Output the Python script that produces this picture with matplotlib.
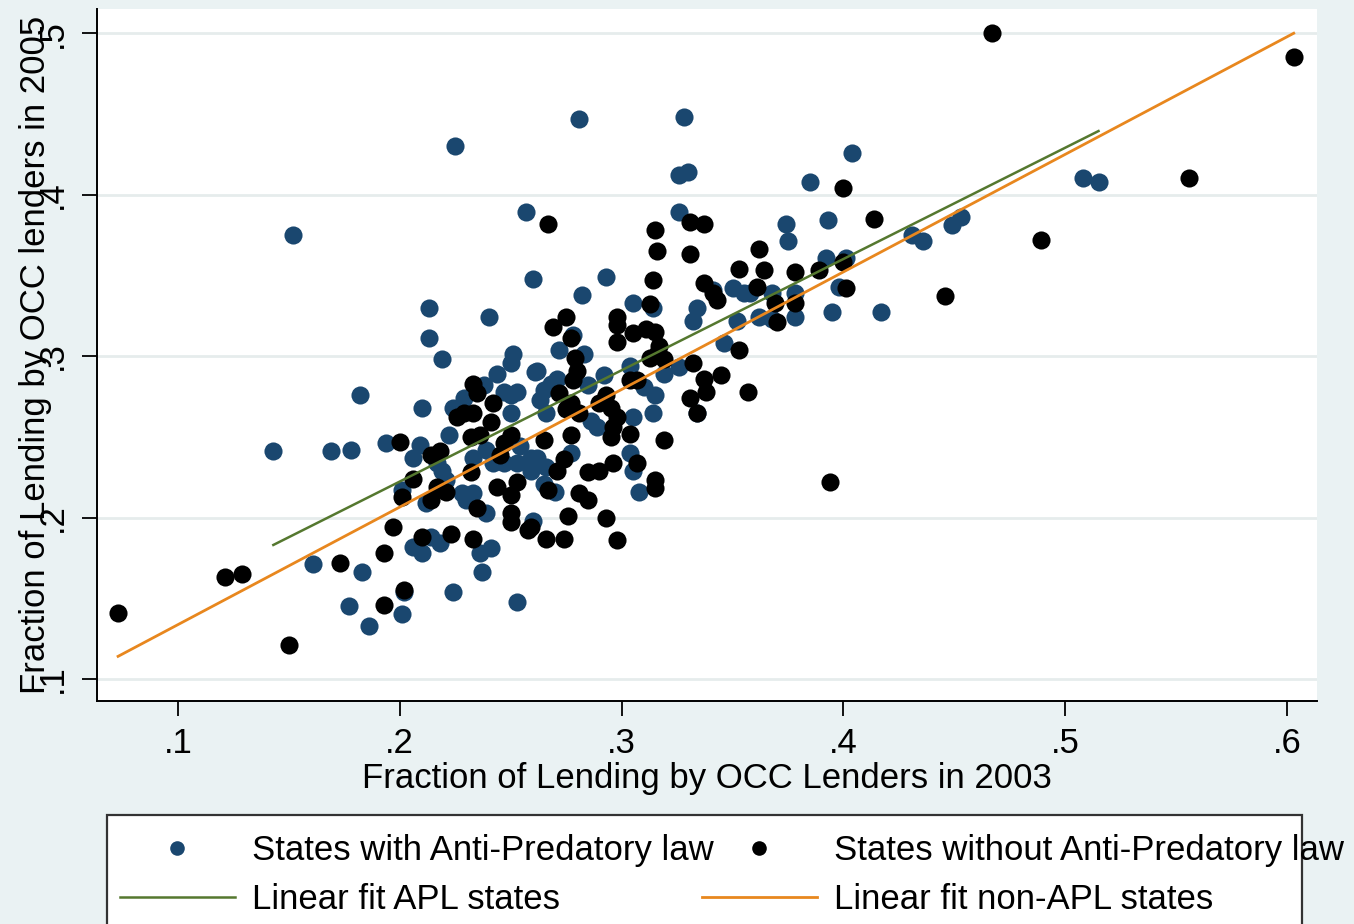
import matplotlib
matplotlib.use("Agg")
import matplotlib.pyplot as plt
from matplotlib.lines import Line2D
from matplotlib.patches import Rectangle
import numpy as np

# States with an anti-predatory lending law (APL)
apl_x = [0.152, 0.225, 0.281, 0.328, 0.326, 0.330, 0.404, 0.385, 0.508, 0.515,
         0.257, 0.326, 0.374, 0.393, 0.453, 0.449, 0.431, 0.436, 0.375, 0.260,
         0.293, 0.282, 0.305, 0.314, 0.392, 0.401, 0.417, 0.395, 0.378, 0.362,
         0.368, 0.352, 0.334, 0.332, 0.341, 0.350, 0.355, 0.358, 0.368, 0.378,
         0.398, 0.346, 0.213, 0.240, 0.213, 0.219, 0.251, 0.250, 0.244, 0.261,
         0.238, 0.247, 0.253, 0.265, 0.182, 0.210, 0.143, 0.169, 0.178, 0.194,
         0.206, 0.209, 0.222, 0.224, 0.250, 0.250, 0.263, 0.233, 0.219, 0.217,
         0.242, 0.247, 0.253, 0.259, 0.259, 0.228, 0.233, 0.230, 0.212, 0.201,
         0.265, 0.239, 0.260, 0.214, 0.206, 0.210, 0.218, 0.236, 0.241, 0.183,
         0.237, 0.161, 0.177, 0.186, 0.201, 0.202, 0.224, 0.253, 0.278, 0.272,
         0.283, 0.262, 0.271, 0.292, 0.285, 0.304, 0.310, 0.315, 0.314, 0.319,
         0.326, 0.305, 0.289, 0.286, 0.277, 0.262, 0.266, 0.304, 0.334, 0.270,
         0.305, 0.308, 0.229, 0.268, 0.266, 0.239, 0.254, 0.221]
apl_y = [0.375, 0.430, 0.447, 0.448, 0.412, 0.414, 0.426, 0.408, 0.410, 0.408,
         0.389, 0.389, 0.382, 0.384, 0.386, 0.381, 0.375, 0.371, 0.371, 0.348,
         0.349, 0.338, 0.333, 0.330, 0.361, 0.361, 0.327, 0.327, 0.324, 0.324,
         0.323, 0.322, 0.330, 0.322, 0.341, 0.342, 0.339, 0.339, 0.339, 0.339,
         0.343, 0.308, 0.330, 0.324, 0.311, 0.298, 0.301, 0.296, 0.289, 0.290,
         0.282, 0.278, 0.278, 0.279, 0.276, 0.268, 0.241, 0.241, 0.242, 0.246,
         0.237, 0.245, 0.251, 0.268, 0.276, 0.265, 0.273, 0.237, 0.229, 0.234,
         0.234, 0.234, 0.234, 0.237, 0.229, 0.215, 0.215, 0.211, 0.209, 0.217,
         0.221, 0.203, 0.198, 0.188, 0.182, 0.178, 0.184, 0.178, 0.181, 0.166,
         0.166, 0.171, 0.145, 0.133, 0.140, 0.154, 0.154, 0.148, 0.313, 0.304,
         0.301, 0.291, 0.286, 0.288, 0.282, 0.294, 0.281, 0.276, 0.265, 0.289,
         0.293, 0.262, 0.256, 0.260, 0.240, 0.237, 0.231, 0.240, 0.265, 0.216,
         0.229, 0.216, 0.274, 0.283, 0.265, 0.242, 0.244, 0.223]

# States without an anti-predatory lending law
non_x = [0.467, 0.603, 0.556, 0.400, 0.414, 0.267, 0.315, 0.331, 0.337, 0.316,
         0.331, 0.337, 0.362, 0.353, 0.364, 0.378, 0.389, 0.400, 0.361, 0.401,
         0.369, 0.378, 0.370, 0.353, 0.489, 0.446, 0.394, 0.315, 0.317, 0.319,
         0.332, 0.337, 0.338, 0.331, 0.345, 0.357, 0.334, 0.319, 0.315, 0.315,
         0.269, 0.275, 0.277, 0.298, 0.298, 0.298, 0.305, 0.311, 0.313, 0.314,
         0.341, 0.343, 0.279, 0.280, 0.278, 0.272, 0.277, 0.275, 0.281, 0.290,
         0.293, 0.295, 0.304, 0.307, 0.313, 0.316, 0.298, 0.296, 0.295, 0.304,
         0.277, 0.265, 0.274, 0.271, 0.296, 0.307, 0.285, 0.290, 0.267, 0.281,
         0.285, 0.276, 0.293, 0.259, 0.266, 0.274, 0.298, 0.233, 0.235, 0.242,
         0.229, 0.226, 0.233, 0.241, 0.232, 0.236, 0.200, 0.214, 0.218, 0.247,
         0.250, 0.245, 0.232, 0.206, 0.244, 0.253, 0.250, 0.217, 0.221, 0.214,
         0.201, 0.235, 0.250, 0.250, 0.258, 0.197, 0.210, 0.223, 0.233, 0.193,
         0.173, 0.073, 0.121, 0.129, 0.150, 0.193, 0.202]
non_y = [0.500, 0.485, 0.410, 0.404, 0.385, 0.382, 0.378, 0.383, 0.382, 0.365,
         0.363, 0.345, 0.366, 0.354, 0.353, 0.352, 0.353, 0.358, 0.343, 0.342,
         0.333, 0.333, 0.321, 0.304, 0.372, 0.337, 0.222, 0.315, 0.306, 0.298,
         0.296, 0.286, 0.278, 0.274, 0.288, 0.278, 0.265, 0.248, 0.223, 0.218,
         0.318, 0.324, 0.311, 0.324, 0.319, 0.309, 0.314, 0.317, 0.332, 0.347,
         0.339, 0.335, 0.299, 0.291, 0.285, 0.277, 0.271, 0.267, 0.265, 0.271,
         0.276, 0.268, 0.285, 0.285, 0.299, 0.301, 0.262, 0.256, 0.250, 0.252,
         0.251, 0.248, 0.236, 0.229, 0.234, 0.234, 0.228, 0.229, 0.217, 0.215,
         0.211, 0.201, 0.200, 0.194, 0.187, 0.187, 0.186, 0.283, 0.277, 0.271,
         0.265, 0.262, 0.265, 0.259, 0.250, 0.251, 0.247, 0.239, 0.241, 0.246,
         0.251, 0.239, 0.228, 0.224, 0.219, 0.222, 0.214, 0.219, 0.216, 0.211,
         0.213, 0.206, 0.203, 0.197, 0.192, 0.194, 0.188, 0.190, 0.187, 0.178,
         0.172, 0.141, 0.163, 0.165, 0.121, 0.146, 0.155]

# Linear fits: (intercept, slope)
fit_apl = (0.0845, 0.689)
fit_non = (0.0609, 0.728)

x_ticks = [0.1, 0.2, 0.3, 0.4, 0.5, 0.6]
y_ticks = [0.1, 0.2, 0.3, 0.4, 0.5]
x_labels = [".1", ".2", ".3", ".4", ".5", ".6"]
y_labels = [".1", ".2", ".3", ".4", ".5"]

label_apl = "States with Anti-Predatory law"
label_non = "States without Anti-Predatory law"
label_fit_apl = "Linear fit APL states"
label_fit_non = "Linear fit non-APL states"

NAVY = "#1A476F"
GREEN = "#55782F"
ORANGE = "#E8871E"
BG = "#EAF2F3"
GRID = "#E6ECEC"
FS = 25

plt.rcParams["font.family"] = ["Liberation Sans", "DejaVu Sans"]

W, H = 1354, 924
fig = plt.figure(figsize=(W / 100, H / 100), dpi=100, facecolor=BG)
ax = fig.add_axes([97 / W, 1 - 701 / H, (1317 - 97) / W, (701 - 9) / H])
ax.set_facecolor("white")

ax.scatter(apl_x, apl_y, s=170, color=NAVY, linewidths=0, zorder=3)
ax.scatter(non_x, non_y, s=170, color="black", linewidths=0, zorder=4)

xa = np.array([min(apl_x), max(apl_x)])
xn = np.array([min(non_x), max(non_x)])
ax.plot(xa, fit_apl[0] + fit_apl[1] * xa, color=GREEN, lw=1.8, zorder=5)
ax.plot(xn, fit_non[0] + fit_non[1] * xn, color=ORANGE, lw=2.0, zorder=6)

ax.set_xlim(0.0635, 0.6135)
ax.set_ylim(0.0864, 0.5149)
ax.set_xticks(x_ticks)
ax.set_xticklabels(x_labels)
ax.set_yticks(y_ticks)
ax.set_yticklabels(y_labels, rotation=90, va="center")
ax.grid(axis="y", color=GRID, lw=2.0, zorder=0)
ax.set_axisbelow(True)

for side in ("top", "right"):
    ax.spines[side].set_visible(False)
for side in ("left", "bottom"):
    ax.spines[side].set_linewidth(1.4)
    ax.spines[side].set_color("black")

ax.tick_params(axis="both", direction="out", length=11, width=1.3,
               labelsize=FS, colors="black", pad=8)
ax.tick_params(axis="y", pad=9)

ax.set_xlabel("Fraction of Lending by OCC Lenders in 2003", fontsize=FS, labelpad=1)
ax.set_ylabel("Fraction of Lending by OCC lenders in 2005", fontsize=FS)
ax.yaxis.set_label_coords(-0.037, 0.5)

# Legend: two columns inside one frame
h_apl = Line2D([], [], ls="none", marker="o", ms=10.5, color=NAVY, mec="none")
h_non = Line2D([], [], ls="none", marker="o", ms=10.5, color="black", mec="none")
h_fa = Line2D([], [], color=GREEN, lw=1.8)
h_fn = Line2D([], [], color=ORANGE, lw=2.0)

common = dict(frameon=False, fontsize=FS, handlelength=3.3, handletextpad=0.5,
              labelspacing=0.45, borderpad=0, borderaxespad=0, loc="center left")
leg1 = fig.legend([h_apl, h_fa], [label_apl, label_fit_apl],
                  bbox_to_anchor=(120 / W, 1 - 875 / H), **common)
leg2 = fig.legend([h_non, h_fn], [label_non, label_fit_non],
                  bbox_to_anchor=(702 / W, 1 - 875 / H), **common)

frame = Rectangle((107 / W, -0.05), (1302 - 107) / W, (1 - 815 / H) + 0.05,
                  transform=fig.transFigure, facecolor="white",
                  edgecolor="#333333", lw=1.6, zorder=-1)
fig.patches.append(frame)

fig.savefig("out.png", dpi=100, facecolor=BG)
